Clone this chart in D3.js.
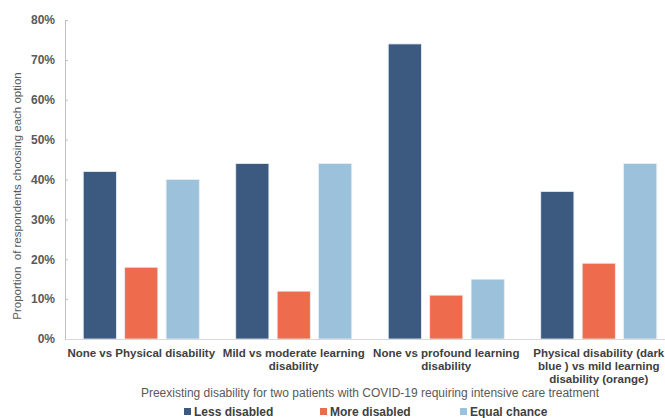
<!DOCTYPE html>
<html>
<script src='https://d3js.org/d3.v7.min.js'></script>
<style>
body { margin: 0; background: #fff; }
text { font-family: 'Liberation Sans', Arial, sans-serif; }
</style>
<body>
<svg width="665" height="418"></svg>
<script>

// categories (each label split into its display lines)
var categories = [
  ["None vs Physical disability"],
  ["Mild vs moderate learning", "disability"],
  ["None vs profound learning", "disability"],
  ["Physical disability (dark", "blue ) vs mild learning", "disability (orange)"]
];
var series = ["Less disabled", "More disabled", "Equal chance"];
var lessDisabled = [42, 44, 74, 37];
var moreDisabled = [18, 12, 11, 19];
var equalChance = [40, 44, 15, 44];
var yTicks = [0, 10, 20, 30, 40, 50, 60, 70, 80];

var colors = ["#3c5a80", "#ee6c4d", "#9bc1db"];
var values = [lessDisabled, moreDisabled, equalChance];

var svg = d3.select("svg");
var plotLeft = 65, plotRight = 675, plotTop = 20, plotBottom = 339;

var x0 = d3.scaleBand().domain(d3.range(categories.length)).range([plotLeft, plotRight]);
var x1 = d3.scaleBand().domain(d3.range(series.length)).range([0, x0.bandwidth()]).paddingInner(0.2).paddingOuter(0.44);
var y = d3.scaleLinear().domain([0, 80]).range([plotBottom, plotTop]);

// bars
var groups = svg.append("g").selectAll("g")
  .data(categories)
  .enter().append("g")
  .attr("transform", function (d, i) { return "translate(" + x0(i) + ",0)"; });

groups.selectAll("rect")
  .data(function (d, i) { return values.map(function (v, s) { return { s: s, v: v[i] }; }); })
  .enter().append("rect")
  .attr("x", function (d) { return x1(d.s); })
  .attr("y", function (d) { return y(d.v); })
  .attr("width", x1.bandwidth())
  .attr("height", function (d) { return plotBottom - y(d.v); })
  .attr("fill", function (d) { return colors[d.s]; })
  .attr("stroke", "#e8eef4")
  .attr("stroke-width", 0.8);

// y axis
var yAxis = svg.append("g")
  .attr("transform", "translate(" + plotLeft + ",0)")
  .call(d3.axisLeft(y).tickValues(yTicks).tickSizeInner(-3).tickSizeOuter(0).tickPadding(10)
    .tickFormat(function (d) { return d + "%"; }));
yAxis.select(".domain").attr("stroke", "#bfbfbf");
yAxis.selectAll(".tick line").attr("stroke", "#bfbfbf");
yAxis.selectAll(".tick text")
  .attr("fill", "#595959")
  .style("font-size", "12px")
  .style("font-weight", "bold")
  .style("font-family", "'Liberation Sans', Arial, sans-serif");

// x axis baseline
var xAxis = svg.append("g")
  .attr("transform", "translate(0," + plotBottom + ")")
  .call(d3.axisBottom(x0).tickSize(0).tickFormat(""));
xAxis.select(".domain").attr("stroke", "#d9d9d9");

// category labels
svg.append("g").selectAll("text")
  .data(categories)
  .enter().append("text")
  .attr("text-anchor", "middle")
  .attr("fill", "#404040")
  .style("font-size", "11.5px")
  .style("font-weight", "bold")
  .each(function (d, i) {
    var t = d3.select(this);
    d.forEach(function (line, k) {
      t.append("tspan")
        .attr("x", x0(i) + x0.bandwidth() / 2)
        .attr("y", 357 + k * 13)
        .text(line);
    });
  });

// axis titles
svg.append("text")
  .attr("x", 370)
  .attr("y", 397)
  .attr("text-anchor", "middle")
  .attr("fill", "#595959")
  .style("font-size", "12px")
  .text("Preexisting disability for two patients with COVID-19 requiring intensive care treatment");

svg.append("text")
  .attr("transform", "translate(21,196)rotate(-90)")
  .attr("text-anchor", "middle")
  .attr("fill", "#595959")
  .style("font-size", "11.5px")
  .style("white-space", "pre")
  .text("Proportion  of respondents choosing each option");

// legend
var legendX = [184, 320, 460];
var legend = svg.append("g").selectAll("g")
  .data(series)
  .enter().append("g")
  .attr("transform", function (d, i) { return "translate(" + legendX[i] + ",408)"; });

legend.append("rect")
  .attr("width", 7).attr("height", 7)
  .attr("fill", function (d, i) { return colors[i]; });

legend.append("text")
  .attr("x", 10)
  .attr("y", 8)
  .attr("fill", "#404040")
  .style("font-size", "12px")
  .style("font-weight", "bold")
  .text(function (d) { return d; });

</script>
</body>
</html>
